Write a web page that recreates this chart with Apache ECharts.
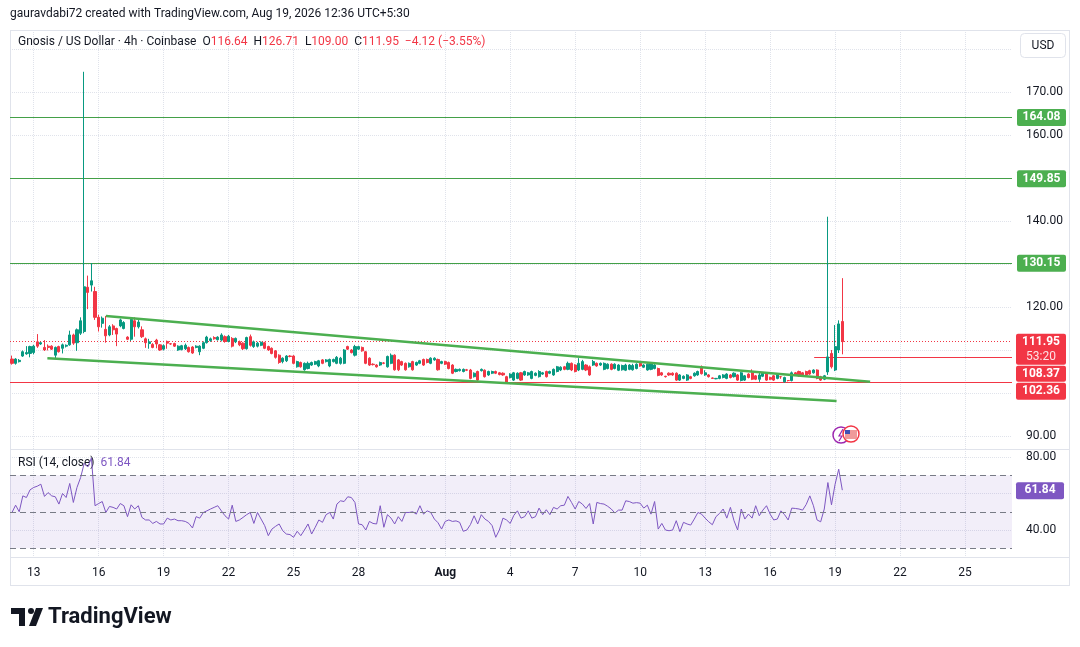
<!DOCTYPE html>
<html>
<head>
<meta charset="utf-8">
<title>Gnosis / US Dollar 4h</title>
<script src="https://cdn.jsdelivr.net/npm/echarts@6/dist/echarts.min.js"></script>
<style>
html, body { margin: 0; padding: 0; background: #ffffff; }
#main { width: 1080px; height: 647px; }
</style>
</head>
<body>
<div id="main"></div>
<script>
// 4h candles, index 0 = Jul 12 2026 00:00
var opens = [
    107.9, 106.9, 107.3, 108.6, 109.1, 109.2, 109.4, 111.9, 111.4, 110.6,
    110.9, 110.9, 108.8, 110.8, 110.4, 110.9, 111.2, 113.5, 111.7, 113.9,
    114.3, 124.6, 125.1, 123.6, 117.6, 116.2, 114.8, 113.5, 115.6, 115.0,
    115.6, 115.0, 113.0, 112.5, 116.8, 115.4, 114.7, 112.6, 111.5, 111.3,
    112.3, 111.2, 110.2, 112.0, 111.45, 111.5, 110.0, 110.1, 110.3, 110.6,
    110.7, 110.6, 109.6, 110.4, 111.7, 112.2, 112.9, 112.4, 112.3, 113.1,
    112.0, 112.7, 111.9, 111.9, 111.6, 110.3, 113.1, 110.8, 110.9, 111.1,
    111.7, 110.8, 110.4, 109.8, 108.8, 107.3, 107.5, 108.6, 108.6, 106.1,
    107.1, 105.4, 105.7, 106.5, 106.7, 106.3, 107.7, 107.3, 106.3, 107.3,
    106.9, 106.9, 106.9, 110.8, 110.0, 108.8, 110.2, 110.6, 109.6, 108.1,
    106.7, 106.5, 106.5, 107.0, 106.1, 106.9, 108.8, 107.7, 107.3, 106.9,
    106.1, 107.3, 106.5, 106.9, 107.8, 107.8, 106.9, 107.7, 107.8, 106.9,
    107.3, 107.1, 106.5, 105.0, 105.2, 105.0, 105.4, 105.35, 103.8, 105.0,
    105.2, 105.3, 104.2, 104.6, 105.0, 104.7, 104.6, 103.8, 103.6, 103.0,
    103.4, 104.7, 104.2, 104.2, 103.4, 104.1, 103.8, 104.4, 105.0, 104.6,
    104.2, 105.0, 105.35, 106.1, 105.5, 106.9, 106.5, 105.35, 105.5, 106.5,
    106.1, 106.5, 106.9, 106.5, 105.5, 105.7, 106.7, 105.7, 105.3, 105.4,
    105.3, 105.5, 105.4, 105.7, 106.9, 106.0, 105.35, 105.5, 105.7, 105.7,
    104.7, 103.9, 104.6, 104.6, 104.6, 103.0, 103.4, 103.0, 103.8, 104.0,
    104.2, 106.1, 104.2, 104.2, 103.5, 103.3, 103.4, 103.6, 103.4, 104.2,
    103.8, 104.2, 102.9, 103.0, 104.4, 104.7, 104.0, 103.2, 103.9, 104.4,
    103.6, 104.0, 103.4, 103.8, 102.6, 102.9, 102.9, 104.7, 105.0, 104.7,
    105.0, 105.2, 104.7, 105.35, 103.8, 103.2, 104.9, 109.2, 105.35, 110.0,
    116.64
];
var closes = [
    106.9, 107.9, 107.6, 109.6, 109.4, 110.8, 110.9, 110.9, 111.7, 110.0,
    110.6, 110.2, 110.6, 109.6, 111.2, 111.1, 113.5, 111.6, 114.7, 116.8,
    124.7, 123.4, 126.1, 117.6, 115.4, 117.4, 113.3, 115.4, 114.7, 113.7,
    117.0, 116.4, 112.5, 117.1, 115.4, 116.5, 113.1, 111.7, 111.9, 110.6,
    111.4, 110.0, 111.0, 111.6, 111.4, 110.9, 110.9, 111.0, 111.1, 109.6,
    109.3, 110.9, 110.9, 111.7, 113.0, 112.6, 112.6, 113.0, 113.5, 112.0,
    113.2, 110.9, 112.7, 111.2, 110.3, 112.9, 111.1, 111.9, 111.6, 111.8,
    110.4, 110.0, 109.2, 108.3, 107.1, 108.1, 108.6, 108.5, 106.9, 107.3,
    106.1, 106.9, 106.9, 107.1, 107.3, 107.5, 106.9, 107.7, 107.8, 107.8,
    108.3, 108.1, 110.0, 110.2, 109.4, 110.8, 110.8, 109.8, 106.9, 106.5,
    106.6, 106.1, 107.1, 106.9, 108.5, 108.8, 105.4, 105.4, 106.5, 105.4,
    106.9, 105.4, 107.1, 107.5, 106.5, 107.1, 108.1, 108.1, 105.4, 107.3,
    106.7, 105.7, 104.6, 105.5, 105.5, 105.5, 105.3, 103.4, 104.6, 103.0,
    105.5, 103.8, 105.0, 105.0, 104.6, 104.3, 104.2, 102.25, 104.4, 104.7,
    104.6, 103.0, 105.0, 104.7, 105.0, 104.6, 105.0, 104.7, 103.8, 105.0,
    105.5, 106.1, 106.0, 105.5, 106.9, 105.35, 105.0, 106.9, 107.3, 105.35,
    104.2, 107.3, 106.3, 106.9, 106.9, 106.7, 105.5, 106.7, 106.5, 106.4,
    106.5, 106.5, 106.4, 106.7, 106.3, 106.5, 106.7, 106.9, 106.5, 104.1,
    104.2, 103.8, 104.2, 104.2, 103.0, 104.2, 103.9, 104.2, 103.4, 104.6,
    105.0, 104.5, 104.7, 103.8, 103.4, 103.4, 104.0, 104.2, 104.4, 103.6,
    104.6, 103.0, 104.7, 104.0, 103.6, 103.2, 103.2, 104.2, 104.7, 103.0,
    103.2, 103.0, 104.2, 103.8, 103.6, 102.9, 104.7, 104.2, 104.0, 104.2,
    104.2, 104.4, 105.35, 103.4, 103.0, 104.0, 108.4, 106.1, 110.8, 116.07,
    111.95
];
var lows = [
    106.6, 106.6, 107.1, 108.4, 108.9, 108.3, 109.0, 110.5, 111.2, 109.8,
    109.9, 110.0, 108.1, 109.4, 109.2, 110.6, 111.0, 111.2, 109.8, 113.5,
    113.9, 119.5, 123.6, 117.0, 114.3, 115.2, 111.7, 113.2, 113.5, 110.9,
    115.3, 114.8, 112.3, 112.1, 113.1, 115.0, 112.8, 110.5, 110.3, 110.4,
    110.4, 109.8, 109.9, 110.3, 111.2, 110.7, 109.8, 109.9, 110.0, 109.4,
    109.1, 110.4, 108.8, 110.2, 111.5, 111.9, 112.4, 112.2, 112.0, 111.7,
    111.8, 110.6, 111.6, 110.9, 110.0, 110.1, 110.8, 110.5, 110.6, 110.9,
    110.2, 109.8, 109.0, 108.0, 106.8, 106.9, 107.2, 108.3, 106.7, 105.9,
    105.9, 105.2, 105.5, 106.3, 106.5, 106.0, 106.7, 107.1, 106.0, 107.1,
    106.7, 106.6, 106.7, 110.0, 109.2, 108.5, 110.0, 109.6, 106.7, 106.3,
    106.4, 105.9, 106.3, 106.7, 105.9, 106.7, 105.2, 105.1, 106.3, 105.2,
    105.9, 105.2, 106.3, 106.7, 106.3, 106.9, 106.7, 107.5, 105.2, 106.7,
    106.5, 105.5, 104.4, 104.8, 105.0, 104.8, 105.1, 103.2, 103.6, 102.8,
    105.0, 103.6, 104.0, 104.4, 104.4, 104.1, 104.0, 102.1, 103.4, 102.8,
    103.2, 102.8, 104.0, 104.0, 103.2, 103.9, 103.6, 104.2, 103.6, 104.4,
    104.0, 104.8, 105.1, 105.3, 105.3, 105.1, 104.8, 105.1, 105.3, 105.1,
    104.0, 106.3, 106.1, 106.3, 105.3, 105.5, 105.3, 105.5, 105.1, 105.2,
    105.1, 105.3, 105.2, 105.5, 106.1, 105.8, 105.2, 105.3, 105.5, 103.9,
    104.0, 103.6, 104.0, 104.0, 102.8, 102.8, 103.2, 102.8, 103.2, 103.8,
    104.0, 104.3, 104.0, 103.6, 103.3, 103.2, 103.2, 103.4, 103.2, 103.4,
    103.6, 102.8, 102.7, 102.8, 103.4, 103.0, 103.0, 102.6, 103.7, 102.8,
    103.0, 102.8, 103.2, 103.3, 102.4, 102.7, 102.7, 104.0, 103.8, 104.0,
    104.0, 104.2, 104.5, 103.2, 102.8, 103.0, 104.2, 105.7, 105.1, 109.3,
    109.0
];
var highs = [
    108.7, 108.1, 107.9, 109.9, 110.9, 111.0, 111.2, 113.7, 111.9, 112.3,
    111.3, 111.1, 110.8, 111.0, 111.5, 111.3, 114.5, 113.8, 115.0, 117.6,
    174.7, 127.3, 130.2, 124.7, 118.2, 117.8, 117.9, 115.8, 116.0, 115.2,
    117.3, 116.7, 113.2, 117.5, 117.6, 117.2, 115.5, 112.9, 112.6, 111.6,
    112.6, 111.4, 111.3, 112.2, 111.6, 111.7, 111.1, 111.2, 111.5, 110.8,
    110.9, 111.1, 111.1, 112.0, 113.3, 112.9, 113.2, 113.2, 113.9, 113.4,
    113.5, 113.0, 112.9, 112.2, 111.8, 113.1, 113.6, 112.2, 111.9, 112.0,
    111.9, 111.0, 110.6, 110.0, 109.0, 108.3, 108.8, 108.8, 108.8, 107.5,
    107.3, 107.1, 107.3, 107.3, 107.5, 107.7, 107.9, 107.9, 108.0, 108.0,
    108.6, 108.4, 110.2, 111.0, 110.2, 111.2, 111.0, 110.8, 109.8, 108.3,
    106.9, 106.7, 107.3, 107.2, 108.7, 109.2, 109.0, 107.9, 107.5, 107.1,
    107.1, 107.5, 107.3, 107.7, 108.0, 108.0, 108.3, 108.3, 108.0, 107.5,
    107.5, 107.3, 106.7, 105.7, 105.7, 105.7, 105.6, 105.6, 104.8, 105.2,
    105.7, 105.5, 105.2, 105.2, 105.2, 104.9, 104.8, 104.0, 104.6, 104.9,
    104.8, 104.9, 105.2, 104.9, 105.2, 104.8, 105.3, 104.9, 105.2, 105.2,
    105.7, 106.3, 106.2, 106.3, 107.3, 107.1, 106.7, 108.1, 107.7, 106.7,
    106.4, 107.7, 107.1, 107.1, 107.1, 106.9, 106.9, 106.9, 106.7, 106.6,
    106.8, 106.7, 106.8, 106.9, 107.1, 106.7, 106.9, 107.1, 106.7, 105.9,
    104.9, 104.0, 104.8, 104.8, 104.8, 104.4, 104.1, 104.4, 104.0, 104.8,
    105.2, 106.4, 105.3, 104.4, 103.6, 103.5, 104.2, 104.4, 104.6, 104.4,
    104.8, 104.4, 104.9, 104.2, 104.6, 105.5, 104.2, 105.0, 104.9, 104.6,
    103.8, 104.2, 104.6, 103.9, 103.8, 103.0, 105.0, 104.9, 105.2, 104.9,
    105.2, 105.4, 105.5, 105.5, 104.0, 104.2, 141.0, 110.0, 115.8, 116.9,
    126.71
];
// RSI(14, close)
var rsiValues = [
    49.6, 53.6, 50.0, 58.7, 57.8, 62.0, 63.3, 64.0, 65.1, 58.4,
    60.5, 58.7, 58.2, 54.2, 60.0, 57.8, 65.5, 55.1, 63.3, 68.7,
    76.5, 74.5, 79.5, 53.3, 54.5, 55.6, 49.6, 52.9, 52.4, 51.5,
    54.5, 53.3, 47.3, 53.8, 51.5, 53.3, 46.9, 45.5, 45.5, 43.6,
    44.7, 43.3, 43.3, 46.5, 45.5, 46.0, 45.1, 45.1, 44.7, 43.6,
    41.1, 47.3, 46.5, 49.6, 50.5, 51.5, 52.4, 53.3, 50.5, 47.8,
    46.0, 53.6, 44.7, 45.5, 46.9, 48.4, 49.6, 43.6, 49.6, 46.0,
    42.4, 36.9, 40.5, 42.0, 43.3, 39.6, 37.8, 37.5, 36.0, 39.3,
    36.9, 40.0, 43.3, 37.8, 41.5, 45.5, 44.2, 48.4, 49.6, 46.0,
    54.2, 56.0, 55.6, 58.2, 57.8, 55.1, 43.3, 42.9, 40.0, 44.7,
    43.6, 43.3, 53.3, 41.5, 48.4, 46.5, 43.3, 47.3, 44.7, 49.6,
    49.6, 50.0, 48.7, 53.3, 48.7, 50.5, 49.6, 46.0, 44.0, 40.5,
    44.7, 45.5, 44.7, 45.0, 44.2, 39.3, 40.0, 43.0, 47.8, 43.3,
    48.4, 46.0, 44.7, 42.4, 36.0, 40.0, 46.5, 45.5, 43.6, 48.0,
    50.5, 46.5, 47.3, 50.5, 46.5, 47.3, 52.0, 48.4, 51.1, 48.4,
    52.4, 51.5, 53.3, 53.6, 58.4, 55.1, 51.5, 55.6, 54.2, 51.8,
    54.5, 43.3, 55.1, 54.5, 54.2, 53.0, 51.5, 49.3, 50.9, 50.9,
    56.0, 55.6, 54.7, 55.0, 54.7, 52.0, 53.6, 48.7, 55.6, 40.5,
    43.6, 40.0, 39.6, 40.0, 45.1, 39.1, 44.2, 43.3, 42.7, 46.0,
    49.6, 48.7, 46.5, 44.5, 42.9, 47.3, 49.1, 51.5, 46.5, 52.4,
    45.1, 40.0, 51.5, 46.0, 48.7, 46.5, 53.3, 47.8, 50.9, 53.3,
    48.7, 45.5, 46.0, 50.5, 48.4, 45.5, 52.0, 51.8, 51.5, 50.9,
    54.0, 58.7, 53.3, 45.5, 44.5, 51.5, 66.0, 53.8, 65.1, 73.3,
    61.84
];

// axis ticks / drawn levels
var dayTicks = [6, 24, 42, 60, 78, 96, 120, 138, 156, 174, 192, 210, 228, 246, 264];
var priceGridLevels = [90, 100, 110, 120, 130, 140, 150, 160, 170, 180];
var priceTickLabels = [90, 120, 140, 160, 170];
var rsiGridLevels = [40, 60, 80];
var rsiTickLabels = [40, 80];
var resistanceLevels = [164.08, 149.85, 130.15];
var supportLevel = 102.36;
var rayLevel = 108.37;
var rayStart = 222.2;
var upperTrend = [[26.0, 117.9], [237.7, 102.6]];
var lowerTrend = [[9.8, 108.07], [228.4, 98.14]];
var rsiBands = [30, 50, 70];

var xMin = -0.55, xMax = 277.0;
var startMs = Date.UTC(2026, 6, 12);
var monthNames = ['Jan', 'Feb', 'Mar', 'Apr', 'May', 'Jun', 'Jul', 'Aug', 'Sep', 'Oct', 'Nov', 'Dec'];
var FONT = 'Roboto, "Noto Sans", sans-serif';
var UP = '#089981', DOWN = '#f23645', GREEN = '#4caf50', LEVEL = '#43a047', RSI_COLOR = '#7e57c2', GRID = '#e0e3eb', TEXT = '#131722';

var last = closes.length - 1;
var candleData = closes.map(function (c, i) {
    return [i, opens[i], c, lows[i], highs[i]];
});
var rsiData = rsiValues.map(function (v, i) { return [i, v]; });

function dayLabel(v) {
    var d = new Date(startMs + v * 4 * 3600 * 1000);
    if (d.getUTCDate() === 1) return '{m|' + monthNames[d.getUTCMonth()] + '}';
    return String(d.getUTCDate());
}

function priceLine(name, points, color, width) {
    return {
        name: name, type: 'line', xAxisIndex: 0, yAxisIndex: 0, silent: true,
        data: points, showSymbol: false, symbol: 'none',
        itemStyle: { color: color },
        lineStyle: { color: color, width: width }
    };
}

var myChart = echarts.init(document.getElementById('main'), null, { renderer: 'canvas' });

var xAxisBase = {
    type: 'value', min: xMin, max: xMax,
    axisLine: { show: false },
    axisTick: { show: false, customValues: dayTicks },
    splitLine: { show: true, lineStyle: { color: GRID, type: 'dotted', width: 1 } }
};

var series = [
    {
        name: 'GNO', type: 'candlestick', xAxisIndex: 0, yAxisIndex: 0,
        data: candleData,
        encode: { x: 0, y: [1, 2, 3, 4] },
        barWidth: 2.6,
        itemStyle: { color: UP, color0: DOWN, borderColor: UP, borderColor0: DOWN, borderWidth: 1 }
    },
    priceLine('upper', upperTrend, GREEN, 2.5),
    priceLine('lower', lowerTrend, GREEN, 2.5),
    {
        name: 'RSI', type: 'line', xAxisIndex: 1, yAxisIndex: 1,
        data: rsiData, showSymbol: false, symbol: 'none',
        itemStyle: { color: RSI_COLOR },
        lineStyle: { color: RSI_COLOR, width: 1 },
        markArea: {
            silent: true,
            itemStyle: { color: 'rgba(126,87,194,0.1)' },
            data: [[{ yAxis: rsiBands[0] }, { yAxis: rsiBands[2] }]]
        },
        markLine: {
            silent: true, symbol: 'none', animation: false,
            lineStyle: { color: '#787b86', type: [6, 4], width: 1 },
            label: { show: false },
            data: rsiBands.map(function (v) { return { yAxis: v }; })
        }
    }
];

var option = {
    animation: false,
    backgroundColor: '#ffffff',
    textStyle: { fontFamily: FONT },
    grid: [
        { left: 10, right: 68, top: 30, height: 419 },
        { left: 10, right: 68, top: 449, height: 108 }
    ],
    xAxis: [
        Object.assign({}, xAxisBase, {
            gridIndex: 0,
            axisLabel: { show: false, customValues: dayTicks }
        }),
        Object.assign({}, xAxisBase, {
            gridIndex: 1,
            axisLabel: {
                show: true, customValues: dayTicks, formatter: dayLabel,
                color: TEXT, fontSize: 12, margin: 10, fontFamily: FONT,
                rich: { m: { fontWeight: 'bold', color: TEXT, fontSize: 12, fontFamily: FONT } }
            }
        })
    ],
    yAxis: [
        {
            type: 'value', gridIndex: 0, position: 'right', min: 86.98, max: 184.42,
            axisLine: { show: false },
            axisTick: { show: false, customValues: priceGridLevels },
            axisLabel: {
                customValues: priceTickLabels, margin: 14, color: TEXT, fontSize: 12, fontFamily: FONT,
                formatter: function (v) { return v.toFixed(2); }
            },
            splitLine: { show: true, lineStyle: { color: GRID, type: 'dotted' } }
        },
        {
            type: 'value', gridIndex: 1, position: 'right', min: 25.21, max: 84.38,
            axisLine: { show: false },
            axisTick: { show: false, customValues: rsiGridLevels },
            axisLabel: {
                customValues: rsiTickLabels, margin: 14, color: TEXT, fontSize: 12, fontFamily: FONT,
                formatter: function (v) { return v.toFixed(2); }
            },
            splitLine: { show: true, lineStyle: { color: GRID, type: 'dotted' } }
        }
    ],
    series: series
};

myChart.setOption(option);

// pixel helpers from the chart's own scales
function py(v) { return myChart.convertToPixel({ yAxisIndex: 0 }, v); }
function px(t) { return myChart.convertToPixel({ xAxisIndex: 0 }, t); }
function crisp(y) { return Math.round(y - 0.5) + 0.5; }

var gridLeft = px(xMin), gridRight = px(xMax);
var yc = py(closes[last]);
var yr = myChart.convertToPixel({ yAxisIndex: 1 }, rsiValues[last]);
var change = closes[last] - closes[last - 1];
var pct = change / closes[last - 1] * 100;
function signed(v) { return (v < 0 ? '\u2212' : '+') + Math.abs(v).toFixed(2); }

function hline(x1, y, x2, color, dash) {
    return { type: 'line', silent: true, shape: { x1: x1, y1: y, x2: x2, y2: y }, style: { stroke: color || GRID, lineWidth: 1, lineDash: dash || null } };
}
function vline(x, y1, y2) {
    return { type: 'line', silent: true, shape: { x1: x, y1: y1, x2: x, y2: y2 }, style: { stroke: GRID, lineWidth: 1 } };
}
function box(x, y, w, h, fill) {
    return { type: 'rect', silent: true, shape: { x: x, y: y, width: w, height: h, r: 2 }, style: { fill: fill } };
}
function label(x, y, text, fill, font, align) {
    return {
        type: 'text', silent: true, x: x, y: y,
        style: { text: text, fill: fill, font: font || ('12px ' + FONT), align: align || 'left', verticalAlign: 'middle' }
    };
}

var graphics = [
    hline(10, 30.5, 1070), hline(10, 449.5, 1070), hline(10, 557.5, 1070), hline(10, 585.5, 1070),
    vline(10.5, 30, 585), vline(1069.5, 30, 585),
    label(10, 14, 'gauravdabi72 created with TradingView.com, Aug 19, 2026 12:36 UTC+5:30', TEXT),
    {
        type: 'text', silent: true, x: 18, y: 42,
        style: {
            text: '{n|Gnosis / US Dollar \u00b7 4h \u00b7 Coinbase}  {n|O}{r|' + opens[last].toFixed(2) +
                '}  {n|H}{r|' + highs[last].toFixed(2) + '}  {n|L}{r|' + lows[last].toFixed(2) +
                '}  {n|C}{r|' + closes[last].toFixed(2) + '}  {r|' + signed(change) + ' (' + signed(pct) + '%)}',
            font: '12px ' + FONT, verticalAlign: 'middle',
            rich: {
                n: { fill: TEXT, font: '12px ' + FONT },
                r: { fill: DOWN, font: '12px ' + FONT }
            }
        }
    },
    { type: 'rect', silent: true, shape: { x: 1020.5, y: 33.5, width: 45, height: 24, r: 4 }, style: { fill: '#ffffff', stroke: GRID, lineWidth: 1 } },
    label(1043, 45.5, 'USD', TEXT, '12px ' + FONT, 'center'),
    {
        type: 'text', silent: true, x: 18, y: 463,
        style: {
            text: '{n|RSI (14, close)}  {p|' + rsiValues[last].toFixed(2) + '}',
            font: '12px ' + FONT, verticalAlign: 'middle',
            rich: { n: { fill: TEXT, font: '12px ' + FONT }, p: { fill: RSI_COLOR, font: '12px ' + FONT } }
        }
    }
];

// horizontal levels drawn crisp on the price scale, with their tags
resistanceLevels.forEach(function (v) {
    var y = py(v);
    graphics.push(hline(gridLeft, crisp(y), gridRight, LEVEL));
    graphics.push(box(1017, y - 8.5, 49, 17, GREEN));
    graphics.push(label(1041.5, y, v.toFixed(2), '#ffffff', 'bold 12px ' + FONT, 'center'));
});
graphics.push(hline(gridLeft, crisp(py(supportLevel)), gridRight, DOWN));
graphics.push(hline(gridLeft, crisp(yc), gridRight, DOWN, [1, 2]));
graphics.push(hline(px(rayStart), crisp(py(rayLevel)), gridRight, DOWN));

graphics = graphics.concat([
    // last close with countdown, then the two red levels pushed below it
    box(1016, yc - 8, 50, 31, DOWN),
    label(1041, yc, closes[last].toFixed(2), '#ffffff', 'bold 12px ' + FONT, 'center'),
    label(1041, yc + 15, '53:20', 'rgba(255,255,255,0.85)', '12px ' + FONT, 'center'),
    box(1016, yc + 24, 50, 16, DOWN),
    label(1041, yc + 32, rayLevel.toFixed(2), '#ffffff', 'bold 12px ' + FONT, 'center'),
    box(1016, yc + 41, 50, 17, DOWN),
    label(1041, yc + 49.5, supportLevel.toFixed(2), '#ffffff', 'bold 12px ' + FONT, 'center'),
    box(1016, yr - 8, 48, 17, RSI_COLOR),
    label(1040, yr, rsiValues[last].toFixed(2), '#ffffff', 'bold 12px ' + FONT, 'center'),
    // event markers
    { type: 'circle', silent: true, shape: { cx: 841, cy: 435, r: 8 }, style: { fill: '#ffffff', stroke: '#9c27b0', lineWidth: 1.5 } },
    { type: 'polyline', silent: true, shape: { points: [[843, 429], [839, 436], [842, 436], [839, 441]] }, style: { stroke: '#9c27b0', lineWidth: 1.2, fill: null } },
    { type: 'circle', silent: true, shape: { cx: 851, cy: 434, r: 8 }, style: { fill: '#ffffff', stroke: DOWN, lineWidth: 1.5 } },
    { type: 'rect', silent: true, shape: { x: 845, y: 430, width: 12, height: 9 }, style: { fill: '#ef9a9a' } },
    { type: 'rect', silent: true, shape: { x: 845, y: 430, width: 5, height: 4 }, style: { fill: '#3f51b5' } },
    // TradingView mark
    { type: 'rect', silent: true, shape: { x: 11, y: 608, width: 14, height: 6 }, style: { fill: TEXT } },
    { type: 'rect', silent: true, shape: { x: 19, y: 608, width: 6, height: 18 }, style: { fill: TEXT } },
    { type: 'circle', silent: true, shape: { cx: 31, cy: 611, r: 3 }, style: { fill: TEXT } },
    { type: 'polygon', silent: true, shape: { points: [[36, 608], [43, 608], [36, 626], [29, 626]] }, style: { fill: TEXT } },
    label(48, 617, 'TradingView', TEXT, 'bold 22px ' + FONT)
]);

myChart.setOption({ graphic: graphics });
</script>
</body>
</html>
